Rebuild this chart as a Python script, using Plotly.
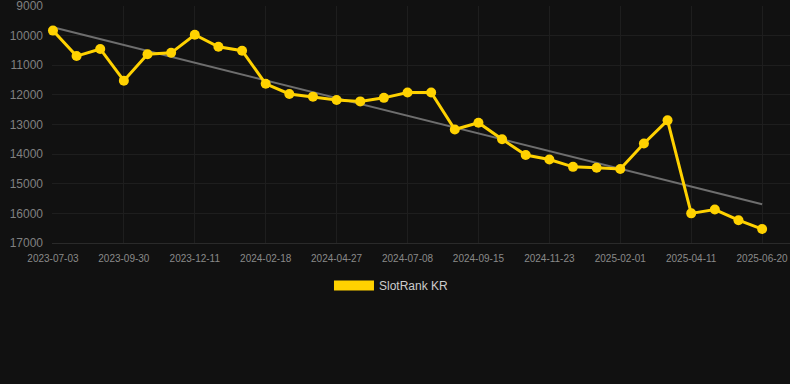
import plotly.graph_objects as go

dates = ["2023-07-03", "2023-08-01", "2023-08-31", "2023-09-30", "2023-10-24", "2023-11-17",
         "2023-12-11", "2024-01-03", "2024-01-26", "2024-02-18", "2024-03-12", "2024-04-04",
         "2024-04-27", "2024-05-18", "2024-06-17", "2024-07-08", "2024-07-31", "2024-08-23",
         "2024-09-15", "2024-10-08", "2024-10-31", "2024-11-23", "2024-12-16", "2025-01-09",
         "2025-02-01", "2025-02-24", "2025-03-19", "2025-04-11", "2025-05-04", "2025-05-27",
         "2025-06-20"]
rank = [9830, 10690, 10450, 11520, 10630, 10580, 9970, 10375, 10510, 11625, 11970, 12060,
        12175, 12220, 12100, 11920, 11920, 13170, 12940, 13500, 14030, 14180, 14430, 14460,
        14500, 13640, 12860, 16000, 15870, 16230, 16530]
trend_values = [9720, 15690]
tick_labels = dates[::3]
y_ticks = [9000, 10000, 11000, 12000, 13000, 14000, 15000, 16000, 17000]
series_name = "SlotRank KR"

YELLOW = "#FFD200"
fig = go.Figure()
fig.add_trace(go.Scatter(x=[dates[0], dates[-1]], y=trend_values, mode="lines",
                         line=dict(color="#6e6e6e", width=2), showlegend=False, hoverinfo="skip"))
fig.add_trace(go.Scatter(x=dates, y=rank, mode="lines+markers", name=series_name,
                         line=dict(color=YELLOW, width=3), marker=dict(size=10, color=YELLOW),
                         showlegend=False, cliponaxis=False))
fig.add_trace(go.Scatter(x=[None], y=[None], mode="lines", name=series_name,
                         line=dict(color=YELLOW, width=12), showlegend=True))

fig.update_layout(
    width=790, height=384,
    margin=dict(l=52, r=0, t=6, b=141),
    paper_bgcolor="#111111", plot_bgcolor="#111111",
    font=dict(family="Liberation Sans, Arial, sans-serif"),
    showlegend=True,
    legend=dict(orientation="h", x=0.46, xanchor="center", y=-0.118, yanchor="top",
                itemwidth=40, font=dict(size=12, color="#cccccc"), bgcolor="rgba(0,0,0,0)"),
    xaxis=dict(type="category", categoryorder="array", categoryarray=dates,
               range=[-0.04, 31.18], tickmode="array", tickvals=tick_labels,
               ticktext=tick_labels, showgrid=True, gridcolor="#1e1e1e", gridwidth=1,
               tickfont=dict(size=10, color="#8a8a8a"), ticks="", ticklabelstandoff=6,
               showline=True, linecolor="#2a2a2a", zeroline=False),
    yaxis=dict(range=[17000.5, 8999.5], tickmode="array", tickvals=y_ticks,
               ticktext=[str(v) for v in y_ticks], ticklabeloverflow="allow",
               showgrid=True, gridcolor="#1e1e1e", gridwidth=1,
               tickfont=dict(size=12, color="#808080"), ticks="", ticklabelstandoff=8,
               zeroline=False, showline=False),
)
fig.write_html("out.html", config={"displayModeBar": False},
               post_script="document.body.style.margin='0';document.body.style.background='#111111';")
